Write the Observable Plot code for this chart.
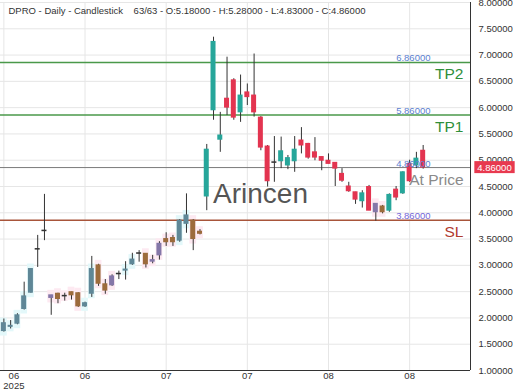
<!DOCTYPE html>
<html>
<head>
<meta charset="utf-8">
<script src="https://cdn.jsdelivr.net/npm/d3@7"></script>
<script src="https://cdn.jsdelivr.net/npm/@observablehq/plot@0.6"></script>
<style>
  html, body { margin: 0; padding: 0; background: #fff; }
  #chart svg { display: block; }
</style>
</head>
<body>
<div id="chart"></div>
<script>
// ---- data ----
const symbol = "DPRO";
const open  = [1.75,1.83,1.89,2.17,2.48,3.30,3.65,2.38,2.46,2.41,2.49,2.47,2.22,2.46,3.00,2.64,2.62,2.83,2.90,3.02,3.22,3.22,3.07,3.19,3.50,3.52,3.47,3.79,3.85,3.64,
               4.31,5.95,5.39,6.17,6.52,5.91,6.29,6.23,5.81,5.26,4.95,4.98,4.90,4.98,5.375,5.31,5.15,5.06,4.99,4.95,4.74,4.50,4.39,4.22,4.49,4.01,4.12,4.04,4.44,4.37,4.93,4.90,5.18];
const high  = [1.98,1.95,2.08,2.68,2.94,3.57,4.35,2.43,2.47,2.47,2.49,2.48,2.30,3.17,3.02,2.73,2.82,2.89,3.07,3.23,3.28,3.22,3.19,3.45,3.62,3.57,3.87,4.36,3.87,3.68,
               5.30,7.34,5.91,6.96,6.55,6.62,6.45,7.02,5.83,5.28,5.45,5.44,5.09,5.45,5.62,5.32,5.43,5.06,5.12,4.95,4.84,4.58,4.39,4.42,4.52,4.17,4.14,4.36,4.50,4.78,5.00,5.15,5.28];
const low   = [1.73,1.79,1.87,2.15,2.47,2.96,3.47,2.05,2.27,2.32,2.34,2.20,2.20,2.39,2.60,2.45,2.60,2.73,2.72,3.00,3.06,2.95,3.03,3.10,3.36,3.36,3.44,3.61,3.28,3.58,
               4.04,5.76,5.15,5.85,5.76,5.72,6.04,5.82,5.18,4.49,4.58,4.84,4.82,4.77,5.12,5.02,4.99,4.80,4.93,4.50,4.58,4.39,4.16,4.09,4.04,3.84,3.98,4.01,4.23,4.35,4.58,4.84,4.83];
const close = [1.90,1.85,2.05,2.41,2.93,3.31,3.66,2.43,2.36,2.42,2.43,2.22,2.28,2.93,2.65,2.52,2.79,2.84,2.92,3.11,3.23,3.02,3.10,3.41,3.44,3.44,3.85,3.95,3.50,3.60,
               5.20,7.25,5.47,6.00,5.81,6.23,6.20,5.91,5.24,4.60,4.96,5.17,5.04,5.20,5.28,5.05,5.05,4.99,4.93,4.84,4.61,4.41,4.25,4.37,4.04,4.17,4.01,4.34,4.29,4.77,4.60,5.03,4.86];
// signal zone shading per bar ("" = none)
const zone  = ["up","up","up","up","up","","","down","down","down","down","down","up","up","down","down","down","","up","up","","down","down","down","down","down","up","up","down","down",
               "","","","","","","","","","","","","","","","","","","","","","","","","","down","down","","","","","",""];

const tickIdx    = [0, 12, 24, 36, 48, 60];
const tickLabels = ["06\n2025", "06", "07", "07", "08", "08"];
const yTicks = [1,1.5,2,2.5,3,3.5,4,4.5,5,5.5,6,6.5,7,7.5,8];

const levelNames  = ["TP2", "TP1", "At Price", "SL"];
const levelValues = [6.86, 5.86, 4.86, 3.86];

// ---- build tables ----
const candles = open.map((o, i) => ({i, open: o, high: high[i], low: low[i], close: close[i], zone: zone[i]}));
const levels = levelNames.map((name, k) => ({name, value: levelValues[k]}));
const last = candles[candles.length - 1];
const n = candles.length;
const header = `${symbol} - Daily - Candlestick\u00A0\u00A0\u00A0 ${n}/${n} - O:${last.open.toFixed(5)} - H:${last.high.toFixed(5)} - L:${last.low.toFixed(5)} - C:${last.close.toFixed(5)}`;

// ---- styles ----
const UP = "#26a69a", DOWN = "#e33450";
const lineColor  = {"TP2": "#4a994a", "TP1": "#4a994a", "At Price": "#7a7a7a", "SL": "#a8553a"};
const labelColor = {"TP2": "#2f8f3a", "TP1": "#2f8f3a", "At Price": "#8a8a8a", "SL": "#b03a2e"};
const valueColor = {"TP2": "#5b7fd0", "TP1": "#5b7fd0", "At Price": "#5b7fd0", "SL": "#7467d8"};
const zoneFill = {up: "#e3f8fa", down: "#fde9f1"};
function bodyColor(d) {
  const up = d.close >= d.open;
  if (Math.abs(d.close - d.open) < 0.015) return "#333";
  if (d.zone === "") return up ? UP : DOWN;
  if (!up) return "#9c6b3c";
  return d.zone === "up" ? "#5f8797" : "#8477a8";
}
const xMax = 69;
const half = 0.37;

const chart = Plot.plot({
  width: 520,
  height: 390,
  marginLeft: 0,
  marginRight: 50,
  marginTop: 2,
  marginBottom: 20,
  x: {domain: [-0.5, xMax], axis: null, label: null},
  y: {domain: [1, 8], axis: null, label: null},
  style: {fontFamily: "'Liberation Sans', Arial, sans-serif", background: "#fff", overflow: "visible"},
  marks: [
    Plot.ruleY(yTicks, {stroke: "#e6e6e6"}),
    Plot.ruleX(tickIdx, {stroke: "#e6e6e6"}),
    Plot.rect(candles.filter(d => d.zone !== ""), {
      x1: d => d.i - 0.5, x2: d => d.i + 0.5,
      y1: d => Math.min(d.open, d.close), y2: d => Math.max(d.open, d.close),
      insetTop: -5, insetBottom: -5, fill: d => zoneFill[d.zone]
    }),
    Plot.ruleY(levels, {y: "value", stroke: d => lineColor[d.name], strokeWidth: d => d.name === "At Price" ? 1 : 1.5}),
    Plot.ruleX(candles, {x: "i", y1: "low", y2: "high", stroke: "#333", strokeWidth: 1}),
    Plot.rect(candles, {
      x1: d => d.i - half, x2: d => d.i + half,
      y1: d => Math.min(d.open, d.close), y2: d => Math.max(d.open, d.close),
      insetTop: -0.5, insetBottom: -0.5, fill: bodyColor
    }),
    Plot.ruleX([xMax], {stroke: "#333"}),
    Plot.ruleY([1], {stroke: "#333"}),
    Plot.axisY(yTicks, {anchor: "right", tickSize: 0, tickPadding: 8, tickFormat: d => d.toFixed(5), fontSize: 9.5, color: "#333", label: null}),
    Plot.axisX(tickIdx.slice(1), {anchor: "bottom", tickSize: 0, tickPadding: 2, tickFormat: d => tickLabels[tickIdx.indexOf(d)], fontSize: 9.5, color: "#333", label: null}),
    Plot.axisX(tickIdx.slice(0, 1), {anchor: "bottom", tickSize: 0, tickPadding: 2, dx: 10, tickFormat: d => tickLabels[tickIdx.indexOf(d)], fontSize: 9.5, color: "#333", label: null}),
    Plot.text(["Arincen"], {frameAnchor: "middle", dx: 25, dy: 8, fontSize: 28, fill: "#555"}),
    Plot.text(levels, {y: "value", text: d => d.value.toFixed(5), frameAnchor: "right", dx: -40, dy: -1, lineAnchor: "bottom", textAnchor: "end", fontSize: 9.5, fill: d => valueColor[d.name]}),
    Plot.text(levels, {y: "value", text: "name", frameAnchor: "right", dx: -7, dy: 6, lineAnchor: "top", textAnchor: "end", fontSize: 15.5, fill: d => labelColor[d.name]}),
    Plot.text([header], {frameAnchor: "top-left", dx: 8, dy: 5, lineAnchor: "top", textAnchor: "start", fontSize: 9.5, fill: "#333"}),
    Plot.text([last.close], {y: d => d, text: d => d.toFixed(5), frameAnchor: "right", textAnchor: "middle", dx: 24, fontSize: 9.5, fill: "#fff", ariaLabel: "price-tag"})
  ]
});
document.getElementById("chart").appendChild(chart);

// red background tag behind the current price label
const tagEl = chart.querySelector('[aria-label="price-tag"]');
let tagText = null;
if (tagEl) tagText = tagEl.tagName.toLowerCase() === "text" ? tagEl : tagEl.querySelector("text");
if (!tagText) {
  tagText = Array.from(chart.querySelectorAll("text")).find(t =>
    t.textContent === last.close.toFixed(5) && (t.getAttribute("fill") === "#fff" || (t.parentNode.getAttribute && t.parentNode.getAttribute("fill") === "#fff")));
}
if (tagText) {
  const bb = tagText.getBBox();
  const rect = document.createElementNS("http://www.w3.org/2000/svg", "rect");
  if (tagText.getAttribute("transform")) rect.setAttribute("transform", tagText.getAttribute("transform"));
  rect.setAttribute("x", bb.x - 3);
  rect.setAttribute("y", bb.y - 0.5);
  rect.setAttribute("width", bb.width + 6);
  rect.setAttribute("height", bb.height + 1);
  rect.setAttribute("fill", "#e8394f");
  rect.setAttribute("stroke", "none");
  tagText.parentNode.insertBefore(rect, tagText);
}
</script>
</body>
</html>
